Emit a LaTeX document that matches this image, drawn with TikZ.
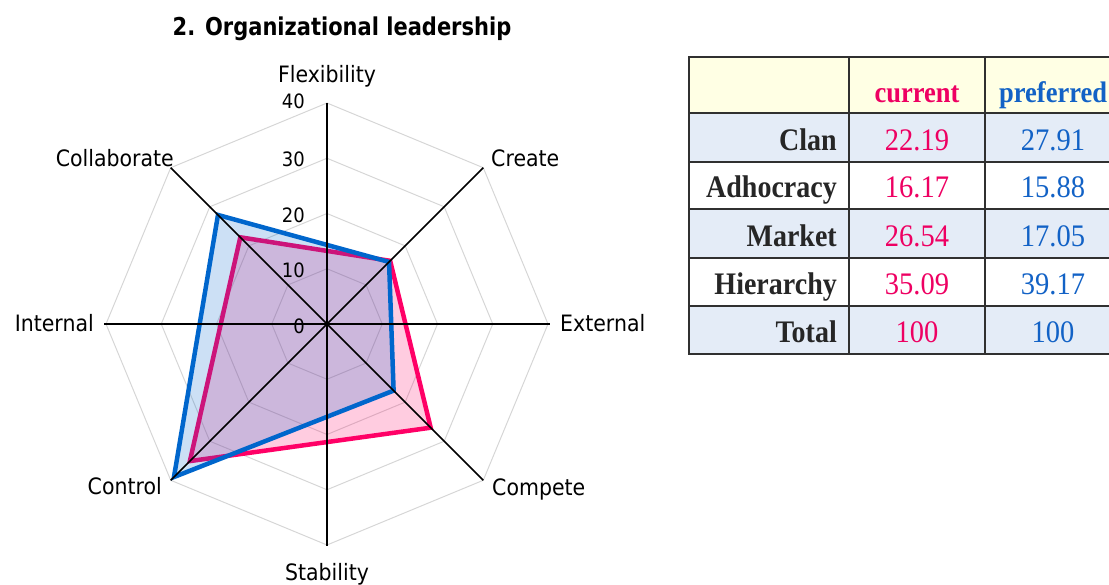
\documentclass[tikz,border=0pt]{standalone}
\usepackage{fontspec}
\setmainfont{Liberation Serif}
\newfontfamily\chartfont{DejaVu Sans}
\definecolor{pinkline}{HTML}{FF0066}
\definecolor{blueline}{HTML}{0066CC}
\definecolor{pinktext}{HTML}{EE0062}
\definecolor{bluetext}{HTML}{1262C6}
\definecolor{gridgray}{HTML}{D6D6D6}
\definecolor{headfill}{HTML}{FFFFE4}
\definecolor{rowfill}{HTML}{E4ECF7}
\definecolor{tableline}{HTML}{303030}
\definecolor{labelink}{HTML}{262626}
\newcommand{\tall}[2]{\scalebox{1}[#1]{#2}}
\tikzset{
  gridring/.style={draw=gridgray, line width=1pt},
  axisline/.style={draw=black, line width=1.6pt},
  axismain/.style={draw=black, line width=2.5pt},
  axislbl/.style={font=\chartfont\fontsize{20.5}{24}\selectfont, inner sep=0pt},
  ticklbl/.style={font=\chartfont\fontsize{18}{21}\selectfont, inner sep=0pt, anchor=east},
  curpoly/.style={draw=pinkline, line width=4.5pt, fill=pinkline, fill opacity=0.2, draw opacity=1, line join=miter},
  prefpoly/.style={draw=blueline, line width=4.5pt, fill=blueline, fill opacity=0.2, draw opacity=1, line join=miter},
  tcell/.style={draw=tableline, line width=2.4pt},
  rowlbl/.style={font=\bfseries\fontsize{28}{32}\selectfont, text=labelink, inner sep=0pt, anchor=base east},
  curval/.style={font=\fontsize{28.5}{32}\selectfont, text=pinktext, inner sep=0pt, anchor=base},
  prefval/.style={font=\fontsize{28.5}{32}\selectfont, text=bluetext, inner sep=0pt, anchor=base},
}
\begin{document}
\begin{tikzpicture}[x=1pt,y=1pt]
\useasboundingbox (0,0) rectangle (1109,-585);
\clip (0,0) rectangle (1109,-585);
% title
\node[font=\chartfont\bfseries\fontsize{21}{25}\selectfont, inner sep=0pt, anchor=base] (title) at (342,-36) {\tall{1.17}{2. Organizational leadership}};
% radar chart
\begin{scope}[shift={(327,-324)}]
  \def\u{5.525}
  \foreach \r in {10,20,30,40}{
    \draw[gridring] (0:{\r*\u}) -- (45:{\r*\u}) -- (90:{\r*\u}) -- (135:{\r*\u}) -- (180:{\r*\u}) -- (225:{\r*\u}) -- (270:{\r*\u}) -- (315:{\r*\u}) -- cycle;
  }
  % current (pink)
  \path[curpoly] (135:{22.19*\u}) -- (45:{16.17*\u}) -- (-45:{26.54*\u}) -- (225:{35.09*\u}) -- cycle;
  % preferred (blue)
  \path[prefpoly] (135:{27.91*\u}) -- (45:{15.88*\u}) -- (-45:{17.05*\u}) -- (225:{39.17*\u}) -- cycle;
  % axes
  \coordinate (cen) at (0,0);
  \coordinate (aN) at (90:221);
  \coordinate (aS) at (270:222);
  \coordinate (aE) at (0:223);
  \coordinate (aW) at (180:223);
  \coordinate (aNE) at (45:221);
  \coordinate (aSW) at (225:221);
  \coordinate (aNW) at (135:221);
  \coordinate (aSE) at (315:221);
  \draw[axisline] (aNE) -- (aSW);
  \draw[axisline] (aNW) -- (aSE);
  \draw[axisline, line width=2pt] (aW) -- (aE);
  \draw[axismain] (aN) -- (aS);
  \fill (cen) circle (2.2pt);
  % ticks
  \node[ticklbl] (t40) at (-22,{40*\u+1.5}) {\tall{1.1}{40}};
  \node[ticklbl] (t30) at (-22,{30*\u-1}) {\tall{1.1}{30}};
  \node[ticklbl] (t20) at (-22,{20*\u-1.5}) {\tall{1.1}{20}};
  \node[ticklbl] (t10) at (-22,{10*\u-2}) {\tall{1.1}{10}};
  \node[ticklbl] (t0) at (-22,-2) {\tall{1.1}{0}};
\end{scope}
% axis labels
\node[axislbl, anchor=base] (lflex) at (327,-83) {\tall{1.1}{Flexibility}};
\node[axislbl, anchor=base west] (lcreate) at (491,-166.5) {\tall{1.1}{Create}};
\node[axislbl, anchor=base west] (lext) at (560,-331.5) {\tall{1.1}{External}};
\node[axislbl, anchor=base west] (lcomp) at (492,-495.5) {\tall{1.1}{Compete}};
\node[axislbl, anchor=base] (lstab) at (327,-580) {\tall{1.1}{Stability}};
\node[axislbl, anchor=base east] (lctrl) at (162,-494.5) {\tall{1.1}{Control}};
\node[axislbl, anchor=base east] (lint) at (94,-331.5) {\tall{1.1}{Internal}};
\node[axislbl, anchor=base east] (lcoll) at (174,-166.5) {\tall{1.1}{Collaborate}};
% table
\fill[headfill] (689,-57) rectangle (1125,-113);
\fill[rowfill] (689,-113) rectangle (1125,-162);
\fill[rowfill] (689,-209) rectangle (1125,-258);
\fill[rowfill] (689,-306) rectangle (1125,-354);
\foreach \ya/\yb in {57/113,113/162,162/209,209/258,258/306,306/354}{
  \draw[tcell] (689,-\ya) rectangle (849,-\yb);
  \draw[tcell] (849,-\ya) rectangle (985,-\yb);
  \draw[tcell] (985,-\ya) rectangle (1125,-\yb);
}
\node[font=\bfseries\fontsize{26.5}{30}\selectfont, text=pinktext, inner sep=0pt, anchor=base] (hcur) at (917,-103) {\tall{1.12}{current}};
\node[font=\bfseries\fontsize{26.5}{30}\selectfont, text=bluetext, inner sep=0pt, anchor=base west] (hpref) at (999,-103) {\tall{1.12}{preferred}};
\node[rowlbl] (rclan) at (837,-151) {\tall{1.12}{Clan}};
\node[rowlbl] (radh) at (837,-198) {\tall{1.12}{Adhocracy}};
\node[rowlbl] (rmar) at (837,-247) {\tall{1.12}{Market}};
\node[rowlbl] (rhie) at (837,-295) {\tall{1.12}{Hierarchy}};
\node[rowlbl] (rtot) at (837,-343) {\tall{1.12}{Total}};
\node[curval] (c1) at (917,-151) {\tall{1.1}{22.19}};
\node[curval] (c2) at (917,-198) {\tall{1.1}{16.17}};
\node[curval] (c3) at (917,-247) {\tall{1.1}{26.54}};
\node[curval] (c4) at (917,-295) {\tall{1.1}{35.09}};
\node[curval] (c5) at (917,-343) {\tall{1.1}{100}};
\node[prefval] (p1) at (1053,-151) {\tall{1.1}{27.91}};
\node[prefval] (p2) at (1053,-198) {\tall{1.1}{15.88}};
\node[prefval] (p3) at (1053,-247) {\tall{1.1}{17.05}};
\node[prefval] (p4) at (1053,-295) {\tall{1.1}{39.17}};
\node[prefval] (p5) at (1053,-343) {\tall{1.1}{100}};
\end{tikzpicture}
\end{document}
